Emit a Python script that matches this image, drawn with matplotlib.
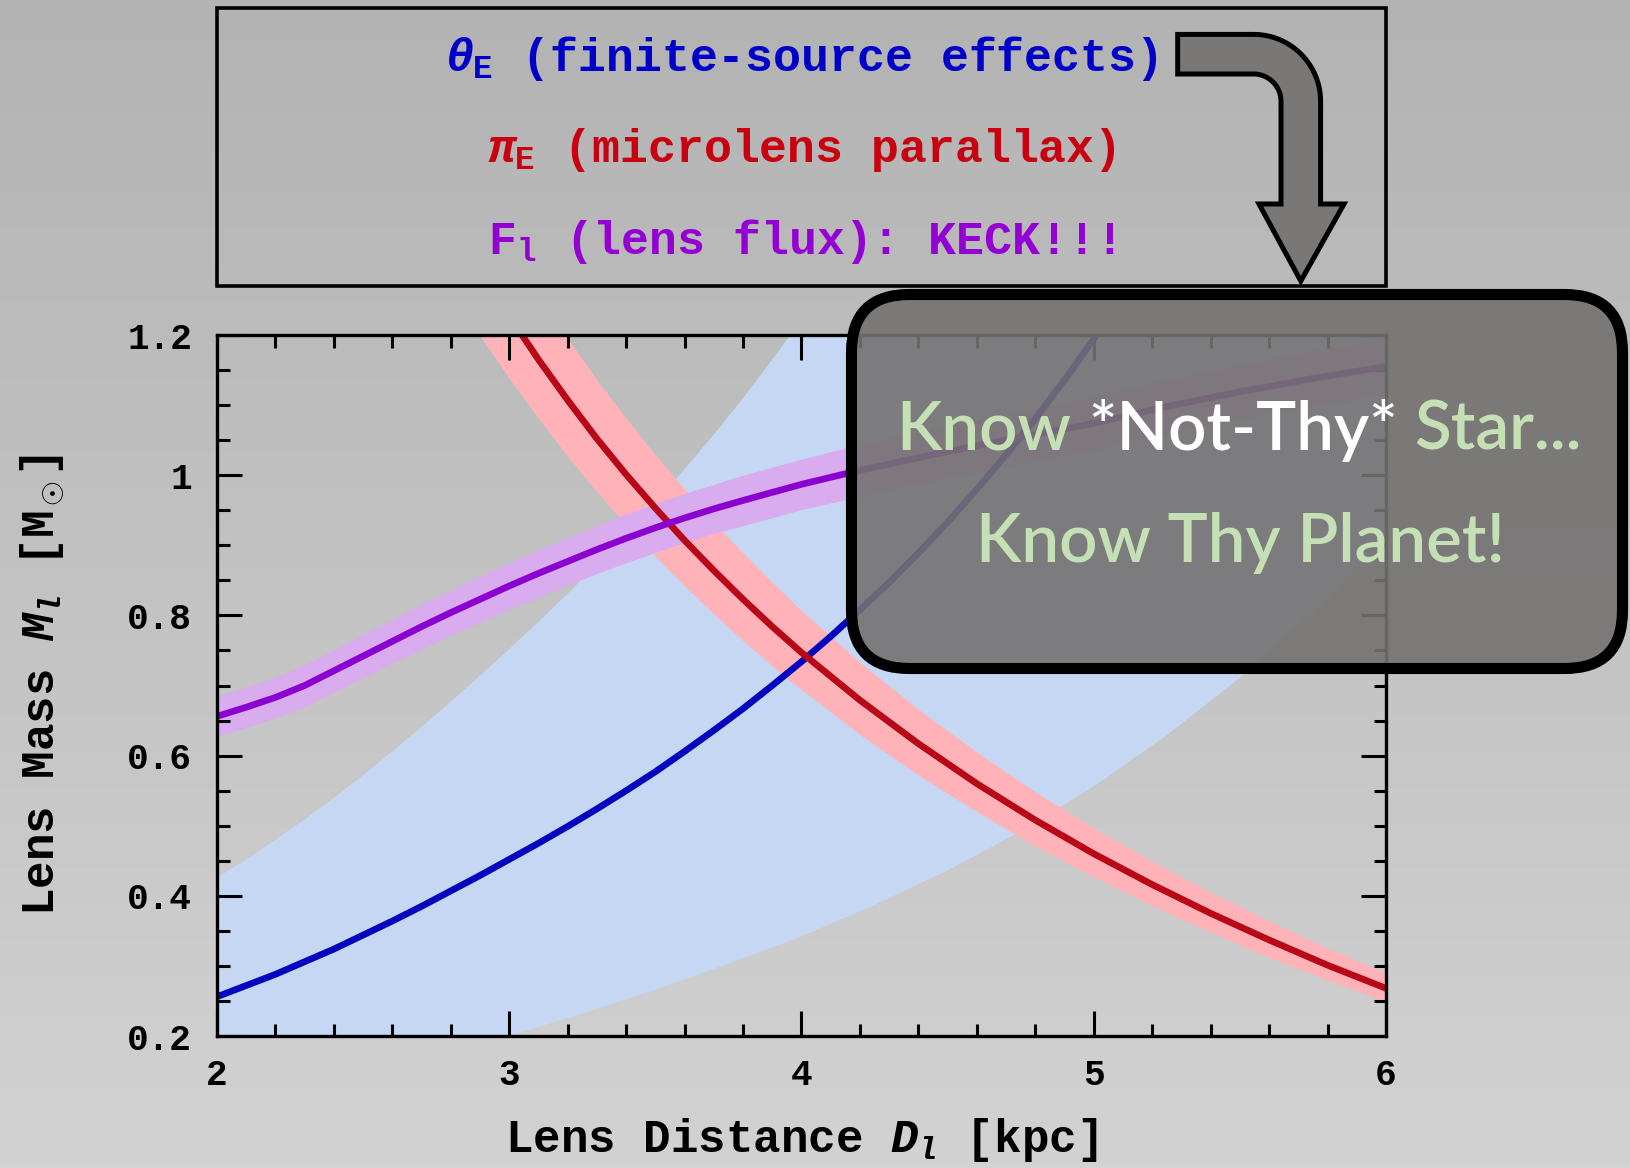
import numpy as np
import matplotlib.pyplot as plt
from matplotlib.patches import FancyBboxPatch, Rectangle, Polygon

plt.rcParams['mathtext.fontset'] = 'custom'
plt.rcParams['mathtext.rm'] = 'Liberation Mono:bold'
plt.rcParams['mathtext.it'] = 'Liberation Mono:italic:bold'
plt.rcParams['mathtext.bf'] = 'Liberation Mono:bold'

# theta_E (finite-source) mass-distance relation
d_theta = [2.0, 2.1, 2.2, 2.3, 2.4, 2.5, 2.6, 2.7, 2.8, 2.9, 3.0, 3.1, 3.2, 3.3, 3.4,
           3.5, 3.6, 3.7, 3.8, 3.9, 4.0, 4.1, 4.2, 4.3, 4.4, 4.5, 4.6, 4.7, 4.8, 4.9,
           5.0, 5.05]
m_theta = [0.256, 0.272, 0.288, 0.306, 0.324, 0.344, 0.364, 0.385, 0.407, 0.429,
           0.452, 0.475, 0.499, 0.524, 0.550, 0.577, 0.606, 0.636, 0.667, 0.700,
           0.734, 0.770, 0.808, 0.847, 0.889, 0.933, 0.980, 1.029, 1.081, 1.136,
           1.194, 1.225]

# theta_E uncertainty band: upper and lower edges
d_tband_hi = [2.0, 2.1, 2.2, 2.3, 2.4, 2.5, 2.6, 2.7, 2.8, 2.9, 3.0, 3.1, 3.2, 3.3,
              3.4, 3.5, 3.6, 3.7, 3.8, 3.9, 4.0, 4.2, 4.5, 5.0, 5.5, 6.0]
tband_hi = [0.426, 0.452, 0.480, 0.509, 0.540, 0.572, 0.606, 0.641, 0.677, 0.714,
            0.752, 0.791, 0.831, 0.873, 0.916, 0.961, 1.009, 1.058, 1.110, 1.165,
            1.222, 1.345, 1.550, 1.990, 2.570, 3.360]
d_tband_lo = [2.0, 2.5, 3.0, 3.25, 3.5, 3.75, 4.0, 4.25, 4.5, 4.75, 5.0, 5.25, 5.5,
              5.75, 6.0]
tband_lo = [0.090, 0.142, 0.200, 0.232, 0.266, 0.303, 0.342, 0.387, 0.436, 0.492,
            0.556, 0.629, 0.711, 0.805, 0.911]

# pi_E (parallax) relation and its band
d_pi = [2.9, 3.0, 3.1, 3.2, 3.3, 3.4, 3.5, 3.6, 3.7, 3.8, 3.9, 4.0, 4.2, 4.4, 4.6,
        4.8, 5.0, 5.2, 5.4, 5.6, 5.8, 6.0]
m_pi = [1.293, 1.227, 1.165, 1.107, 1.052, 1.001, 0.953, 0.907, 0.864, 0.823, 0.784,
        0.747, 0.679, 0.617, 0.560, 0.508, 0.460, 0.416, 0.375, 0.337, 0.301, 0.268]
pband_lo = [1.199, 1.138, 1.081, 1.027, 0.976, 0.929, 0.884, 0.842, 0.802, 0.764,
            0.728, 0.694, 0.630, 0.572, 0.520, 0.471, 0.427, 0.386, 0.348, 0.312,
            0.280, 0.249]
pband_hi = [1.396, 1.325, 1.258, 1.195, 1.136, 1.081, 1.029, 0.980, 0.933, 0.889,
            0.847, 0.807, 0.733, 0.666, 0.605, 0.548, 0.497, 0.449, 0.405, 0.364,
            0.325, 0.290]

# lens flux relation and its band
d_flux = [2.0, 2.1, 2.2, 2.3, 2.4, 2.5, 2.6, 2.7, 2.8, 2.9, 3.0, 3.1, 3.2, 3.3, 3.4,
          3.5, 3.6, 3.7, 3.8, 4.0, 4.2, 4.4, 4.6, 4.8, 5.0, 5.25, 5.5, 5.75, 6.0]
m_flux = [0.656, 0.669, 0.683, 0.700, 0.721, 0.742, 0.763, 0.784, 0.804, 0.823,
          0.842, 0.860, 0.877, 0.894, 0.910, 0.925, 0.939, 0.952, 0.964, 0.987,
          1.007, 1.025, 1.042, 1.058, 1.074, 1.098, 1.119, 1.138, 1.155]
flux_lo = [0.628, 0.640, 0.654, 0.670, 0.691, 0.711, 0.732, 0.752, 0.772, 0.790,
           0.809, 0.826, 0.843, 0.860, 0.875, 0.890, 0.904, 0.917, 0.928, 0.951,
           0.970, 0.988, 1.005, 1.020, 1.036, 1.059, 1.080, 1.098, 1.115]
flux_hi = [0.684, 0.698, 0.712, 0.730, 0.751, 0.773, 0.794, 0.816, 0.836, 0.856,
           0.875, 0.894, 0.911, 0.928, 0.945, 0.960, 0.974, 0.987, 1.000, 1.023,
           1.044, 1.062, 1.079, 1.096, 1.112, 1.137, 1.158, 1.178, 1.195]

x_ticks = [2, 3, 4, 5, 6]
x_labels = ['2', '3', '4', '5', '6']
y_ticks = [0.2, 0.4, 0.6, 0.8, 1.0, 1.2]
y_labels = ['0.2', '0.4', '0.6', '0.8', '1', '1.2']

W, H = 1630, 1168
fig = plt.figure(figsize=(W / 100, H / 100), dpi=100)

# grey gradient background
bg = fig.add_axes([0, 0, 1, 1], zorder=0)
grad = np.linspace(179, 210, 256) / 255
bg.imshow(np.dstack([grad[:, None]] * 3), aspect='auto', extent=[0, 1, 0, 1])
bg.axis('off')

mono = 'Liberation Mono'

ax = fig.add_axes([217 / W, 1 - 1036 / H, 1169 / W, 701 / H], zorder=1)
ax.set_facecolor('none')
ax.fill(np.r_[d_tband_hi, d_tband_lo[::-1]], np.r_[tband_hi, tband_lo[::-1]],
        color='#c5d7f2', lw=0)
ax.plot(d_theta, m_theta, color='#0505c0', lw=4.8)
ax.fill_between(d_pi, pband_lo, pband_hi, color='#ffb3b8', lw=0)
ax.plot(d_pi, m_pi, color='#b80818', lw=4.8)
ax.fill_between(d_flux, flux_lo, flux_hi, color='#d8acee', lw=0)
ax.plot(d_flux, m_flux, color='#8a00d0', lw=4.8)

ax.set_xlim(2, 6)
ax.set_ylim(0.2, 1.2)
ax.set_xticks(x_ticks, x_labels, fontfamily=mono, fontweight='bold', fontsize=26)
ax.set_yticks(y_ticks, y_labels, fontfamily=mono, fontweight='bold', fontsize=26)
ax.set_xticks(np.arange(2, 6.01, 0.2), minor=True)
ax.set_yticks(np.arange(0.2, 1.201, 0.05), minor=True)
ax.tick_params(which='both', direction='in', top=True, right=True, width=2.2)
ax.tick_params(which='major', length=18)
ax.tick_params(which='minor', length=9)
ax.tick_params(axis='x', pad=16)
ax.tick_params(axis='y', pad=18)
for s in ax.spines.values():
    s.set_linewidth(2.4)

ax.set_xlabel(r'Lens Distance $D_l$ [kpc]', fontfamily=mono, fontweight='bold',
              fontsize=33, va='center')
ax.xaxis.set_label_coords(0.5, -0.148)
ax.set_ylabel(r'Lens Mass $M_l$ [M$_\odot$]', fontfamily=mono, fontweight='bold',
              fontsize=33, va='center')
ax.yaxis.set_label_coords(-0.1497, 0.5)

# overlay layer in pixel coordinates
ov = fig.add_axes([0, 0, 1, 1], zorder=3)
ov.set_xlim(0, W)
ov.set_ylim(H, 0)
ov.axis('off')

ov.add_patch(Rectangle((217, 8), 1169, 278, fill=False, ec='black', lw=2.6))
top_kw = dict(fontfamily=mono, fontweight='bold', fontsize=33.5, ha='center', va='baseline')
ov.text(801.5, 71, r'$\theta_\mathrm{E}$ (finite-source effects)', color='#0000c8', **top_kw)
ov.text(801.5, 162, r'$\pi_\mathrm{E}$ (microlens parallax)', color='#c8000f', **top_kw)
ov.text(801.5, 254, r'F$_\mathrm{l}$ (lens flux): KECK!!!', color='#9400d3', **top_kw)

# bent arrow
cx, cy, R, r = 1253.6, 101.4, 67.0, 27.4
t = np.linspace(0, np.pi / 2, 30)
pts = [(1177.7, cy - R)]
pts += list(zip(cx + R * np.sin(t), cy - R * np.cos(t)))
pts += [(cx + R, 204), (1344, 204), (1300.8, 281), (1259, 204), (cx + r, 204)]
pts += list(zip(cx + r * np.sin(t[::-1]), cy - r * np.cos(t[::-1])))
pts += [(1177.7, cy - r)]
ov.add_patch(Polygon(pts, closed=True, fc='#7a7777', ec='black', lw=3.6, joinstyle='miter'))

# translucent message box
ov.add_patch(FancyBboxPatch((851.5, 294.5), 771, 374,
                            boxstyle='round,pad=0,rounding_size=58',
                            fc=(0.455, 0.447, 0.443, 0.9), ec='black', lw=8, clip_on=False))

green = '#c5e0b4'
fig.canvas.draw()
rend = fig.canvas.get_renderer()
kw = dict(fontfamily='Lato', fontweight='semibold', fontsize=42, va='baseline')


def width(s):
    tt = ov.text(0, 0, s, **kw)
    w = tt.get_window_extent(renderer=rend).width
    tt.remove()
    return w


line1 = 'Know *Not-Thy* Star...'
kw['fontsize'] = 42 * 686 / width(line1)
w_all = width(line1)
x0 = 1239 - w_all / 2
ov.text(x0, 450, 'Know', color=green, ha='left', **kw)
ov.text(x0 + width('Know *Not-Thy*'), 450, '*Not-Thy*', color='white', ha='right', **kw)
ov.text(x0 + w_all, 450, 'Star...', color=green, ha='right', **kw)
ov.text(1240, 562, 'Know Thy Planet!', color=green, ha='center', **kw)

fig.savefig('out.png', dpi=100)
